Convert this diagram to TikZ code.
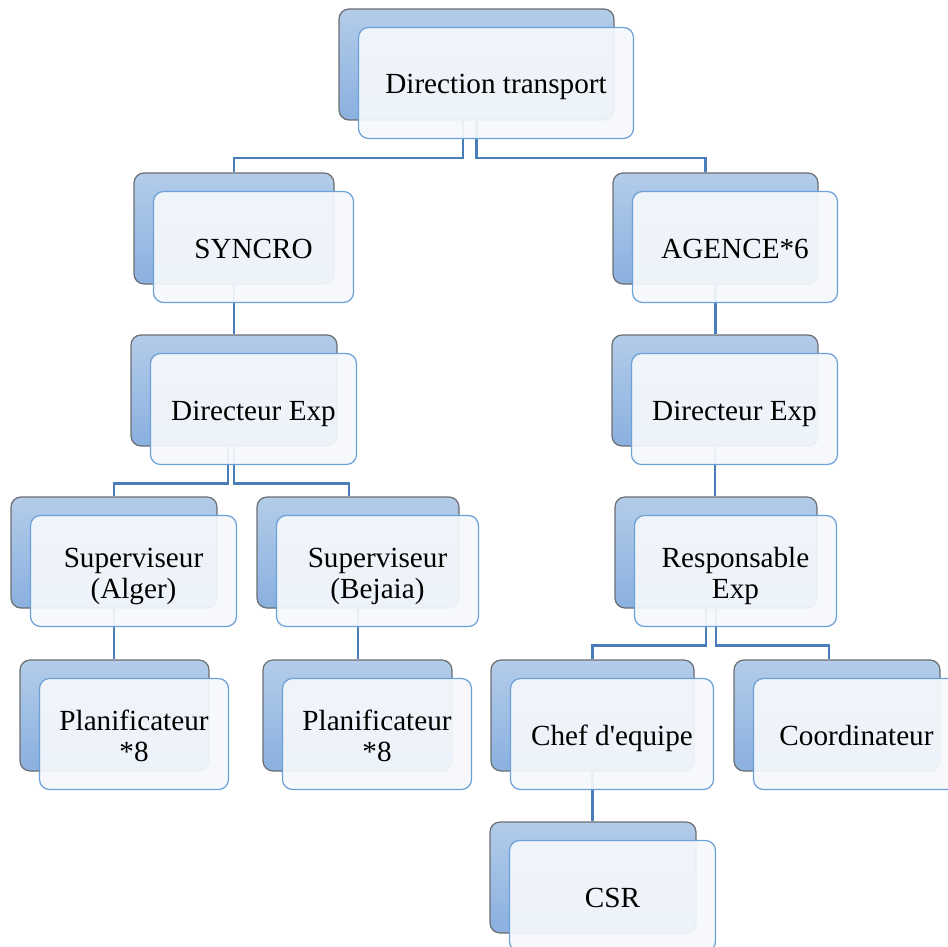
\documentclass[tikz,border=0pt]{standalone}
\usepackage{fontspec}
\setmainfont{Liberation Serif}
\usepackage{tikz}
\usetikzlibrary{backgrounds}
\definecolor{backtop}{HTML}{B3CCE9}
\definecolor{backbot}{HTML}{8AB0DF}
\definecolor{backline}{HTML}{6B6E72}
\definecolor{frontfill}{HTML}{F5F8FC}
\definecolor{frontline}{HTML}{6BA1D8}
\definecolor{linkblue}{HTML}{4A7EBB}
\tikzstyle{frontbox}=[rectangle,
rounded corners=5pt,
draw=frontline,
line width=0.6pt,
fill=frontfill,
fill opacity=0.93,
text opacity=1,
minimum height=55.5pt,
align=center,
text height=11pt,
text depth=0pt,
font=\fontsize{14.6}{15.5}\selectfont]
\tikzstyle{twolines}=[text height=28pt,
text depth=0.5pt]
\tikzstyle{backbox}=[rectangle,
rounded corners=5pt,
draw=backline,
line width=0.6pt,
top color=backtop,
bottom color=backbot,
minimum height=55.5pt]
\tikzstyle{link}=[draw=linkblue,
line width=1.25pt]

\begin{document}
\begin{tikzpicture}[x=0.5pt,y=-0.5pt]
	\useasboundingbox (0,0) rectangle (948,947);
	\clip (0,0) rectangle (948,947);
	
	% Front boxes carry the texts
	\node (dir)   [frontbox, minimum width=137.5pt] at (496,83)    {Direction transport};
	\node (syn)   [frontbox, minimum width=100pt]   at (253.5,247) {SYNCRO};
	\node (age)   [frontbox, minimum width=102.5pt] at (735,247)   {AGENCE*6};
	\node (dexL)  [frontbox, minimum width=103pt]   at (253.5,409) {Directeur Exp};
	\node (dexR)  [frontbox, minimum width=103pt]   at (734.5,409) {Directeur Exp};
	\node (supA)  [frontbox, twolines, minimum width=103pt] at (133.5,571) {Superviseur\\(Alger)};
	\node (supB)  [frontbox, twolines, minimum width=101pt] at (377.5,571) {Superviseur\\(Bejaia)};
	\node (resp)  [frontbox, twolines, minimum width=101pt] at (735.5,571) {Responsable\\Exp};
	\node (planA) [frontbox, twolines, minimum width=94.5pt] at (134,734) {Planificateur\\*8};
	\node (planB) [frontbox, twolines, minimum width=94.5pt] at (377,734) {Planificateur\\*8};
	\node (chef)  [frontbox, minimum width=101.5pt] at (612,734)   {Chef d\textquotesingle equipe};
	\node (coord) [frontbox, minimum width=103pt]   at (856.5,734) {Coordinateur};
	\node (csr)   [frontbox, minimum width=103pt]   at (612.5,896) {CSR};
	
	% Shaded boxes behind, then the connectors
	\begin{pgfonlayer}{background}
	\foreach \n/\w in {dir/137.5, syn/100, age/102.5, dexL/103, dexR/103,
		supA/103, supB/101, resp/101, planA/94.5, planB/94.5,
		chef/101.5, coord/103, csr/103}
	\node (\n-b) [backbox, minimum width=\w pt]
	at ([xshift=-9.75pt,yshift=9.25pt]\n.center) {};
	
	\draw[link] ([xshift=-6.75pt]dir-b.south) -- ++(0,37.5) -| (syn-b.north);
	\draw[link] (dir-b.south) -- ++(0,37.5) -| ([xshift=-5pt]age-b.north);
	\draw[link] (syn-b.south) -- (syn-b.south |- dexL-b.north);
	\draw[link] (age-b.south) -- (age-b.south |- dexR-b.north);
	\draw[link] ([xshift=-3pt]dexL-b.south) -- ++(0,37) -| (supA-b.north);
	\draw[link] (dexL-b.south) -- ++(0,37) -| ([xshift=-4.5pt]supB-b.north);
	\draw[link] (dexR-b.south) -- (dexR-b.south |- resp-b.north);
	\draw[link] (supA-b.south) -- (supA-b.south |- planA-b.north);
	\draw[link] (supB-b.south) -- (supB-b.south |- planB-b.north);
	\draw[link] ([xshift=-5pt]resp-b.south) -- ++(0,37) -| (chef-b.north);
	\draw[link] (resp-b.south) -- ++(0,37) -| ([xshift=-4pt]coord-b.north);
	\draw[link] (chef-b.south) -- (chef-b.south |- csr-b.north);
	\end{pgfonlayer}
\end{tikzpicture}
\end{document}
